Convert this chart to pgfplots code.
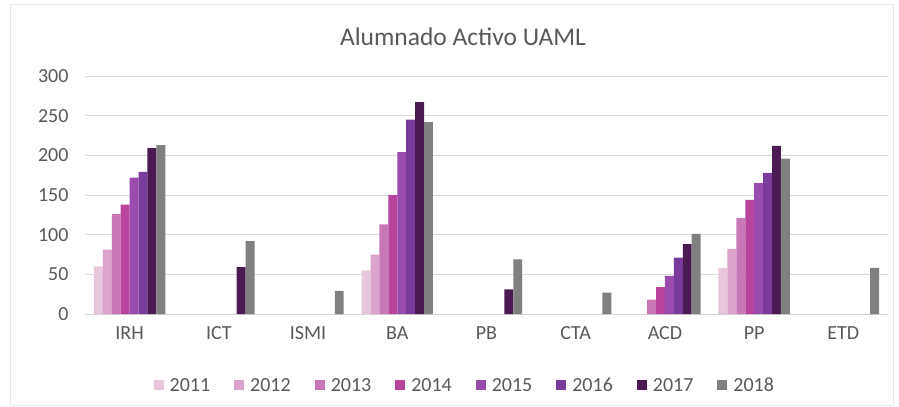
\documentclass[border=0pt]{standalone}
\usepackage{pgfplots}
\pgfplotsset{compat=1.18}
\usepackage{fontspec}
\setmainfont{Carlito}
\definecolor{c11}{HTML}{E8C6DC}
\definecolor{c12}{HTML}{DCA3CC}
\definecolor{c13}{HTML}{C878B6}
\definecolor{c14}{HTML}{B8449E}
\definecolor{c15}{HTML}{9A4CAE}
\definecolor{c16}{HTML}{7A3C9C}
\definecolor{c17}{HTML}{4C1A52}
\definecolor{c18}{HTML}{808080}
\definecolor{txt}{HTML}{595959}
\begin{document}
\begin{tikzpicture}[x=1bp,y=1bp]
\useasboundingbox (0,0) rectangle (899,406);
\draw[gray!20, line width=1bp] (10,1) rectangle (893,401);
\node[text=txt, font=\fontsize{25.5bp}{30bp}\selectfont] at (463,369) {Alumnado Activo UAML};
\begin{axis}[
  at={(85bp,92bp)}, anchor=south west,
  scale only axis, width=803bp, height=238bp,
  ymin=0, ymax=300, xmin=-0.5, xmax=8.5,
  ytick={0,50,...,300},
  xtick={0,...,8},
  xticklabels={IRH,ICT,ISMI,BA,PB,CTA,ACD,PP,ETD},
  ymajorgrids, grid style={color=gray!30, line width=0.8bp},
  axis lines*=left,
  y axis line style={draw=none},
  x axis line style={draw=gray!35, line width=0.8bp},
  major tick length=0pt,
  /pgf/number format/assume math mode=true,
  tick label style={text=txt, font=\fontsize{20bp}{23bp}\selectfont},
  yticklabel style={xshift=-13bp},
  xticklabel style={yshift=-9bp},
  ybar, bar width=0.1,
  legend columns=8,
  legend style={at={(0.473,-0.30)}, anchor=center, draw=none, fill=none,
    font=\fontsize{20bp}{23bp}\selectfont, text=txt,
    /tikz/every even column/.append style={column sep=22bp}},
  legend image code/.code={\fill[#1] (0bp,-5bp) rectangle (10bp,5bp); \path (0bp,0bp) -- (14bp,0bp);},
]
\addplot[fill=c11, draw=none, bar shift=-0.35] coordinates {(0,60) (3,55) (7,58)};
\addplot[fill=c12, draw=none, bar shift=-0.25] coordinates {(0,81) (3,75) (7,82)};
\addplot[fill=c13, draw=none, bar shift=-0.15] coordinates {(0,126) (3,113) (6,18) (7,121)};
\addplot[fill=c14, draw=none, bar shift=-0.05] coordinates {(0,138) (3,150) (6,34) (7,144)};
\addplot[fill=c15, draw=none, bar shift=0.05] coordinates {(0,172) (3,204) (6,48) (7,165)};
\addplot[fill=c16, draw=none, bar shift=0.15] coordinates {(0,179) (3,245) (6,71) (7,178)};
\addplot[fill=c17, draw=none, bar shift=0.25] coordinates {(0,209) (1,59) (3,267) (4,31) (6,88) (7,212)};
\addplot[fill=c18, draw=none, bar shift=0.35] coordinates {(0,213) (1,92) (2,29) (3,242) (4,69) (5,27) (6,101) (7,196) (8,58)};
\legend{2011,2012,2013,2014,2015,2016,2017,2018}
\end{axis}
\end{tikzpicture}
\end{document}
